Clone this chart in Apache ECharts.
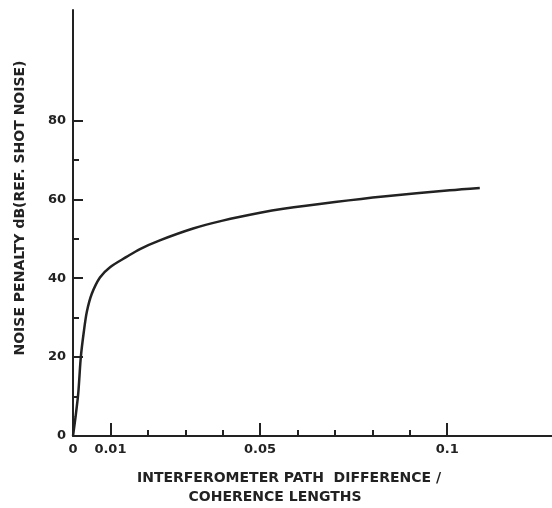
<!DOCTYPE html>
<html>
<head>
<meta charset="utf-8">
<script src="https://cdn.jsdelivr.net/npm/echarts@6/dist/echarts.min.js"></script>
<style>
  html, body { margin: 0; padding: 0; background: #fff; }
  #chart { width: 552px; height: 508px; }
</style>
</head>
<body>
<div id="chart"></div>
<script>
// path difference (coherence lengths) and noise penalty (dB)
const pathDiff = [0, 0.0007, 0.0014, 0.0021, 0.0029, 0.0037, 0.005, 0.0072, 0.0099, 0.0143, 0.0179, 0.0232, 0.0321, 0.04, 0.05, 0.0562, 0.07, 0.0829, 0.1007, 0.1087]
const penalty = [0, 5, 10.8, 20.1, 26.5, 31.5, 36, 40.2, 42.8, 45.4, 47.4, 49.6, 52.6, 54.6, 56.6, 57.6, 59.3, 60.7, 62.3, 62.9]

const xLabelValues = [0, 0.01, 0.05, 0.1]
const xMajorTicks = [0.01, 0.05, 0.1]
const xMinorTicks = [0.02, 0.03, 0.04, 0.06, 0.07, 0.08, 0.09]
const yLabelValues = [0, 20, 40, 60, 80]
const yMajorTicks = [20, 40, 60, 80]
const yMinorTicks = [10, 30, 50, 70]

const yTitle = 'NOISE PENALTY dB(REF. SHOT NOISE)'
const xTitle1 = 'INTERFEROMETER PATH  DIFFERENCE /'
const xTitle2 = 'COHERENCE LENGTHS'

const ink = '#222'
const font = 'DejaVu Sans'

const chart = echarts.init(document.getElementById('chart'))

const baseX = { type: 'value', min: 0, max: 0.128, interval: 0.01, position: 'bottom', splitLine: { show: false } }
const baseY = { type: 'value', min: 0, max: 108, interval: 10, position: 'left', splitLine: { show: false } }

chart.setOption({
  animation: false,
  grid: { left: 73, right: 0, top: 10, bottom: 72 },
  xAxis: [
    {
      ...baseX,
      axisLine: { lineStyle: { color: ink, width: 2 } },
      axisTick: { inside: true, length: 6, customValues: xMinorTicks, lineStyle: { color: ink, width: 2 } },
      axisLabel: {
        customValues: xLabelValues, margin: 7, color: ink,
        fontFamily: font, fontWeight: 'bold', fontSize: 13,
        formatter: v => String(v),
      },
    },
    {
      ...baseX,
      axisLine: { show: false },
      axisTick: { inside: true, length: 13, customValues: xMajorTicks, lineStyle: { color: ink, width: 2 } },
      axisLabel: { show: false },
    },
  ],
  yAxis: [
    {
      ...baseY,
      axisLine: { lineStyle: { color: ink, width: 2 } },
      axisTick: { inside: true, length: 10, customValues: yMajorTicks, lineStyle: { color: ink, width: 2 } },
      axisLabel: {
        customValues: yLabelValues, margin: 7, color: ink,
        fontFamily: font, fontWeight: 'bold', fontSize: 13,
      },
    },
    {
      ...baseY,
      axisLine: { show: false },
      axisTick: { inside: true, length: 6, customValues: yMinorTicks, lineStyle: { color: ink, width: 2 } },
      axisLabel: { show: false },
    },
  ],
  graphic: [
    {
      type: 'text', x: 20, y: 208, rotation: Math.PI / 2,
      style: { text: yTitle, fill: ink, font: `bold 14px "${font}"`, align: 'center', verticalAlign: 'middle' },
    },
    {
      type: 'text', x: 289, y: 478,
      style: { text: xTitle1, fill: ink, font: `bold 14px "${font}"`, align: 'center', verticalAlign: 'middle' },
    },
    {
      type: 'text', x: 275, y: 497,
      style: { text: xTitle2, fill: ink, font: `bold 14px "${font}"`, align: 'center', verticalAlign: 'middle' },
    },
  ],
  series: [
    {
      type: 'line',
      xAxisIndex: 0,
      yAxisIndex: 0,
      data: pathDiff.map((x, i) => [x, penalty[i]]),
      showSymbol: false,
      smooth: 0.3,
      lineStyle: { color: ink, width: 2.5 },
    },
  ],
})
</script>
</body>
</html>
